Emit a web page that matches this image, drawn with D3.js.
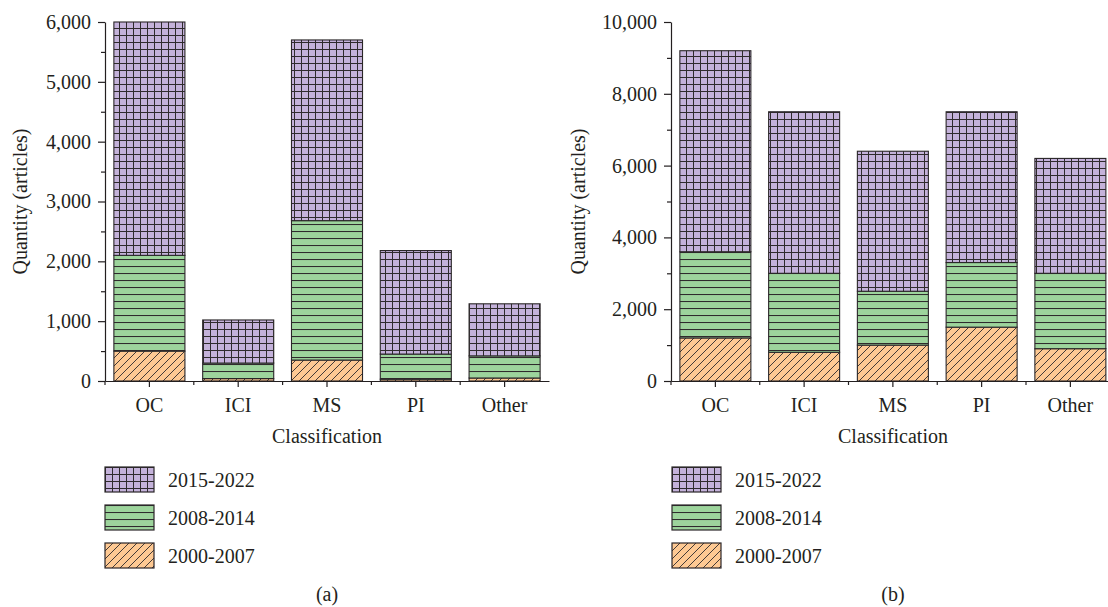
<!DOCTYPE html>
<html>
<head>
<meta charset="utf-8">
<script src="https://cdn.jsdelivr.net/npm/d3@7"></script>
<style>
  body { margin: 0; background: #fff; }
  svg text { font-family: "Liberation Serif", "Times New Roman", serif; fill: #231f20; }
  .axis path, .axis line { stroke: #231f20; stroke-width: 1.2; }
  .axis text { font-size: 20px; font-family: "Liberation Serif", serif; fill: #231f20; }
</style>
</head>
<body>
<svg id="chart" width="1108" height="607"></svg>
<script>
// data
const categories = ["OC", "ICI", "MS", "PI", "Other"];
const periods = ["2000-2007", "2008-2014", "2015-2022"];

// (a) articles per period, per classification
const aEarly = [500, 40, 350, 30, 50];
const aMid = [1600, 260, 2330, 420, 370];
const aLate = [3900, 720, 3020, 1730, 870];
const aTicks = [0, 1000, 2000, 3000, 4000, 5000, 6000];
const aMinor = [500, 1500, 2500, 3500, 4500, 5500];

// (b)
const bEarly = [1200, 800, 1000, 1500, 900];
const bMid = [2400, 2200, 1500, 1800, 2100];
const bLate = [5600, 4500, 3900, 4200, 3200];
const bTicks = [0, 2000, 4000, 6000, 8000, 10000];
const bMinor = [1000, 3000, 5000, 7000, 9000];

const fills = { "2000-2007": "#fec993", "2008-2014": "#9dd49c", "2015-2022": "#c4b2da" };
const patIds = { "2000-2007": "p-diag", "2008-2014": "p-hor", "2015-2022": "p-grid" };

const svg = d3.select("#chart");
const defs = svg.append("defs");

// hatch patterns
const lineCol = "#2f2b2d";
const pGrid = defs.append("pattern").attr("id", "p-grid")
  .attr("patternUnits", "userSpaceOnUse").attr("width", 7).attr("height", 7);
pGrid.append("rect").attr("width", 7).attr("height", 7).attr("fill", fills["2015-2022"]);
pGrid.append("path").attr("d", "M0,0.5H7M0.5,0V7").attr("stroke", lineCol).attr("stroke-width", 1);

const pHor = defs.append("pattern").attr("id", "p-hor")
  .attr("patternUnits", "userSpaceOnUse").attr("width", 7).attr("height", 7);
pHor.append("rect").attr("width", 7).attr("height", 7).attr("fill", fills["2008-2014"]);
pHor.append("path").attr("d", "M0,0.5H7").attr("stroke", lineCol).attr("stroke-width", 1.1);

const pDiag = defs.append("pattern").attr("id", "p-diag")
  .attr("patternUnits", "userSpaceOnUse").attr("width", 8).attr("height", 8);
pDiag.append("rect").attr("width", 8).attr("height", 8).attr("fill", fills["2000-2007"]);
pDiag.append("path").attr("d", "M-2,2L2,-2M0,8L8,0M6,10L10,6")
  .attr("stroke", lineCol).attr("stroke-width", 0.9);

function drawPanel(opts) {
  const { left, right, top, bottom, maxY, ticks, minor, early, mid, late, titleX, legendX, caption } = opts;

  const rows = categories.map((c, i) => ({
    cat: c, "2000-2007": early[i], "2008-2014": mid[i], "2015-2022": late[i]
  }));
  const series = d3.stack().keys(periods)(rows);

  const x = d3.scaleBand().domain(categories).range([left, right])
    .paddingInner(0.2).paddingOuter(0.1);
  const y = d3.scaleLinear().domain([0, maxY]).range([bottom, top]);

  const g = svg.append("g");

  // bars
  g.selectAll("g.layer")
    .data(series)
    .join("g")
    .attr("class", "layer")
    .attr("fill", d => `url(#${patIds[d.key]})`)
    .selectAll("rect")
    .data(d => d)
    .join("rect")
    .attr("x", d => x(d.data.cat))
    .attr("width", x.bandwidth())
    .attr("y", d => y(d[1]))
    .attr("height", d => y(d[0]) - y(d[1]))
    .attr("stroke", "#2a2628")
    .attr("stroke-width", 1.1);

  // y axis
  g.append("g")
    .attr("class", "axis")
    .attr("transform", `translate(${left},0)`)
    .call(d3.axisLeft(y).tickValues(ticks).tickFormat(d3.format(","))
      .tickSize(7).tickSizeOuter(0).tickPadding(7));
  g.append("g")
    .attr("class", "axis")
    .attr("transform", `translate(${left},0)`)
    .call(d3.axisLeft(y).tickValues(minor).tickFormat("").tickSize(4))
    .call(a => a.select(".domain").remove());

  // x axis: major ticks at centres, minor ticks at the band edges
  const edges = categories.map(c => x(c) - x.step() * x.paddingInner() / 2);
  g.append("g")
    .attr("class", "axis")
    .attr("transform", `translate(0,${bottom})`)
    .call(d3.axisBottom(x).tickSize(6).tickSizeOuter(0).tickPadding(11));
  g.append("g")
    .attr("class", "axis")
    .selectAll("line")
    .data(edges)
    .join("line")
    .attr("x1", d => d).attr("x2", d => d)
    .attr("y1", bottom).attr("y2", bottom + 4);

  // axis titles
  g.append("text")
    .attr("transform", `translate(${titleX},${(top + bottom) / 2}) rotate(-90)`)
    .attr("text-anchor", "middle")
    .attr("dy", "0.35em")
    .style("font-size", "20px")
    .text("Quantity (articles)");

  const midX = (left + (left + 444)) / 2;
  g.append("text")
    .attr("x", midX).attr("y", 443)
    .attr("text-anchor", "middle")
    .style("font-size", "20px")
    .text("Classification");

  // legend
  const legendOrder = periods.slice().reverse();
  const lg = g.append("g")
    .selectAll("g")
    .data(legendOrder)
    .join("g")
    .attr("transform", (d, i) => `translate(${legendX},${467 + i * 38})`);
  lg.append("rect")
    .attr("width", 49).attr("height", 25)
    .attr("fill", d => `url(#${patIds[d]})`)
    .attr("stroke", "#2a2628").attr("stroke-width", 1.2);
  lg.append("text")
    .attr("x", 63).attr("y", 12.5).attr("dy", "0.35em")
    .style("font-size", "20px")
    .text(d => d);

  g.append("text")
    .attr("x", midX).attr("y", 601)
    .attr("text-anchor", "middle")
    .style("font-size", "20px")
    .text(caption);
}

drawPanel({
  left: 105, right: 549, top: 22, bottom: 381, maxY: 6000,
  ticks: aTicks, minor: aMinor, early: aEarly, mid: aMid, late: aLate,
  titleX: 20, legendX: 105, caption: "(a)"
});

drawPanel({
  left: 671, right: 1114.75, top: 22, bottom: 381, maxY: 10000,
  ticks: bTicks, minor: bMinor, early: bEarly, mid: bMid, late: bLate,
  titleX: 578, legendX: 672, caption: "(b)"
});
</script>
</body>
</html>
